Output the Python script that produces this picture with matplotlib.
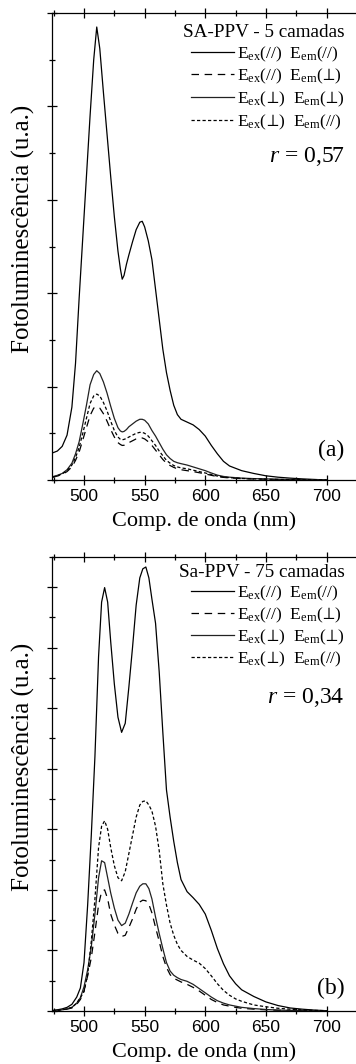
import matplotlib
matplotlib.use("Agg")
import matplotlib.pyplot as plt
from matplotlib.lines import Line2D
from matplotlib.ticker import MultipleLocator

plt.rcParams['font.family'] = ['Liberation Serif', 'DejaVu Serif']
plt.rcParams['mathtext.fontset'] = 'custom'
plt.rcParams['mathtext.rm'] = 'Liberation Serif'
plt.rcParams['mathtext.it'] = 'Liberation Serif:italic'
plt.rcParams['mathtext.bf'] = 'Liberation Serif:bold'
plt.rcParams['mathtext.fallback'] = 'stix'

# ---------------- data: panel (a) SA-PPV - 5 camadas ----------------
wl_a = [474, 478, 482, 486, 490, 493, 496, 499, 502, 505, 508, 510.5, 513, 516, 519, 522,
        525, 528, 530, 531.5, 533, 535, 537, 540, 543, 546, 548, 550, 553, 556, 559, 562, 565, 568,
        571, 574, 577, 580, 585, 590, 595, 600, 605, 610, 615, 620, 630, 640, 650, 660,
        670, 680, 690, 700]
a_par_par = [0.29, 0.31, 0.36, 0.48, 0.78, 1.25, 1.95, 2.60, 3.25, 3.90, 4.50, 4.85, 4.62, 4.15, 3.70, 3.25,
             2.82, 2.45, 2.26, 2.15, 2.19, 2.31, 2.41, 2.55, 2.68, 2.76, 2.77, 2.71, 2.56, 2.36, 2.04, 1.72, 1.40, 1.15,
             0.96, 0.80, 0.70, 0.65, 0.62, 0.59, 0.54, 0.47, 0.37, 0.28, 0.20, 0.15, 0.10, 0.07, 0.045, 0.03,
             0.02, 0.012, 0.006, 0.0]
a_par_per = [0.03, 0.042, 0.06, 0.09, 0.14, 0.21, 0.30, 0.43, 0.56, 0.69, 0.77, 0.785, 0.77, 0.71, 0.63, 0.54,
             0.46, 0.40, 0.38, 0.37, 0.372, 0.385, 0.40, 0.42, 0.44, 0.45, 0.45, 0.44, 0.41, 0.37, 0.32, 0.27, 0.22, 0.18,
             0.155, 0.135, 0.12, 0.11, 0.10, 0.09, 0.078, 0.065, 0.05, 0.037, 0.028, 0.022, 0.015, 0.01, 0.008, 0.005,
             0.004, 0.003, 0.002, 0.0]
a_per_per = [0.035, 0.05, 0.07, 0.11, 0.18, 0.28, 0.41, 0.60, 0.80, 1.02, 1.13, 1.17, 1.14, 1.05, 0.93, 0.79,
             0.66, 0.56, 0.525, 0.515, 0.52, 0.54, 0.57, 0.60, 0.63, 0.65, 0.65, 0.64, 0.60, 0.53, 0.47, 0.40, 0.33, 0.27,
             0.23, 0.20, 0.185, 0.175, 0.16, 0.14, 0.12, 0.10, 0.075, 0.052, 0.038, 0.03, 0.02, 0.015, 0.012, 0.008,
             0.006, 0.004, 0.002, 0.0]
a_per_par = [0.03, 0.045, 0.065, 0.10, 0.16, 0.24, 0.35, 0.50, 0.66, 0.82, 0.90, 0.92, 0.90, 0.83, 0.74, 0.63,
             0.53, 0.46, 0.435, 0.43, 0.435, 0.445, 0.46, 0.48, 0.50, 0.51, 0.51, 0.50, 0.47, 0.42, 0.37, 0.31, 0.26, 0.21,
             0.18, 0.155, 0.14, 0.13, 0.12, 0.105, 0.09, 0.075, 0.058, 0.042, 0.032, 0.025, 0.017, 0.012, 0.009, 0.006,
             0.004, 0.003, 0.002, 0.0]

# ---------------- data: panel (b) Sa-PPV - 75 camadas ----------------
wl_b = [474, 478, 482, 486, 490, 494, 497, 500, 503, 506, 509, 512, 514.5, 517, 519.5, 522,
        525, 528, 531, 534, 537, 540, 543, 546, 548.5, 551, 553.5, 556, 559, 562, 565, 568,
        571, 574, 577, 580, 585, 590, 595, 600, 605, 610, 615, 620, 625, 630, 640, 650,
        660, 670, 680, 690, 700]
b_par_par = [0.01, 0.02, 0.035, 0.06, 0.11, 0.23, 0.38, 0.80, 1.75, 2.90, 4.20, 5.85, 6.75, 6.99, 6.75, 6.10,
             5.40, 4.85, 4.60, 4.75, 5.35, 6.00, 6.70, 7.15, 7.30, 7.33, 7.15, 6.80, 6.40, 5.60, 4.60, 3.65,
             3.20, 2.80, 2.45, 2.17, 1.97, 1.87, 1.76, 1.60, 1.33, 1.03, 0.78, 0.58, 0.45, 0.35, 0.24, 0.15,
             0.09, 0.05, 0.03, 0.015, 0.005]
b_par_per = [0.005, 0.01, 0.018, 0.03, 0.05, 0.11, 0.19, 0.33, 0.58, 0.88, 1.30, 1.75, 1.97, 2.00, 1.85, 1.60,
             1.42, 1.28, 1.23, 1.25, 1.38, 1.52, 1.68, 1.80, 1.83, 1.82, 1.76, 1.62, 1.38, 1.15, 0.90, 0.72,
             0.60, 0.54, 0.51, 0.48, 0.44, 0.39, 0.33, 0.26, 0.19, 0.14, 0.10, 0.08, 0.06, 0.045, 0.03, 0.02,
             0.012, 0.008, 0.005, 0.003, 0.0]
b_per_per = [0.005, 0.01, 0.02, 0.035, 0.06, 0.13, 0.22, 0.40, 0.68, 1.06, 1.60, 2.20, 2.48, 2.45, 2.20, 1.95,
             1.70, 1.50, 1.41, 1.45, 1.60, 1.78, 1.95, 2.06, 2.10, 2.10, 2.02, 1.85, 1.55, 1.28, 1.03, 0.80,
             0.66, 0.59, 0.55, 0.52, 0.49, 0.44, 0.37, 0.30, 0.23, 0.17, 0.13, 0.10, 0.08, 0.06, 0.04, 0.025,
             0.015, 0.01, 0.006, 0.003, 0.0]
b_per_par = [0.005, 0.01, 0.02, 0.035, 0.06, 0.13, 0.22, 0.32, 0.60, 1.15, 1.85, 2.70, 3.05, 3.14, 3.00, 2.70,
             2.40, 2.20, 2.15, 2.30, 2.60, 2.90, 3.20, 3.40, 3.46, 3.47, 3.40, 3.30, 3.05, 2.65, 2.10, 1.75,
             1.45, 1.25, 1.10, 1.00, 0.90, 0.84, 0.79, 0.70, 0.58, 0.45, 0.34, 0.26, 0.20, 0.16, 0.10, 0.07,
             0.045, 0.03, 0.018, 0.01, 0.005]

PERP = r'$\!\bot\!$'
legend_labels = [r'E$_{\mathrm{ex}}$(//)  E$_{\mathrm{em}}$(//)',
                 r'E$_{\mathrm{ex}}$(//)  E$_{\mathrm{em}}$(' + PERP + ')',
                 r'E$_{\mathrm{ex}}$(' + PERP + r')  E$_{\mathrm{em}}$(' + PERP + ')',
                 r'E$_{\mathrm{ex}}$(' + PERP + r')  E$_{\mathrm{em}}$(//)']
titles = ['SA-PPV - 5 camadas', 'Sa-PPV - 75 camadas']
r_texts = [r'$r$ = 0,57', r'$r$ = 0,34']
panel_tags = ['(a)', '(b)']
x_ticks = [500, 550, 600, 650, 700]

styles = [dict(ls='-', color='black'),
          dict(ls=(0, (6, 4.5)), color='black'),
          dict(ls='-', color='#222222'),
          dict(ls=(0, (2.6, 1.8)), color='black')]
LW = 0.9

fig = plt.figure(figsize=(3.56, 10.64), dpi=100)
W, H = 356.0, 1064.0
ax_a = fig.add_axes([52 / W, 1 - 480 / H, 1 - 52 / W, (480 - 13) / H])
ax_b = fig.add_axes([52 / W, 1 - 1011 / H, 1 - 52 / W, (1011 - 556.7) / H])

panels = [(ax_a, wl_a, [a_par_par, a_par_per, a_per_per, a_per_par], 5.0),
          (ax_b, wl_b, [b_par_par, b_par_per, b_per_per, b_per_par], 7.5)]

# text placement (axes fractions) per panel
title_y = [0.959, 0.966]
legend_top = [0.933, 0.941]
legend_spacing = [0.2, 0.16]
r_y = [0.692, 0.689]
tag_y = [0.064, 0.05]
RX = 0.962

for i, (ax, wl, series, ytop) in enumerate(panels):
    for s, st in zip(series, styles):
        ax.plot(wl, s, lw=LW, solid_joinstyle='round', **st)
    ax.set_xlim(473.6, 724.3)
    ax.set_ylim(0, ytop)
    ax.set_xticks(x_ticks)
    ax.xaxis.set_minor_locator(MultipleLocator(25))
    ax.yaxis.set_major_locator(MultipleLocator(1))
    ax.yaxis.set_minor_locator(MultipleLocator(0.5))
    ax.set_yticklabels([])
    ax.spines['right'].set_visible(False)
    for sp in ['left', 'bottom', 'top']:
        ax.spines[sp].set_linewidth(0.9)
    ax.tick_params(axis='x', which='major', direction='inout', length=7, width=0.9,
                   top=True, labelsize=12.5, pad=3)
    ax.tick_params(axis='x', which='minor', direction='inout', length=5, width=0.9, top=True)
    ax.tick_params(axis='y', which='major', direction='inout', length=7, width=0.9, right=False)
    ax.tick_params(axis='y', which='minor', direction='inout', length=4, width=0.9, right=False)
    for lab in ax.get_xticklabels():
        lab.set_fontfamily('Liberation Sans')
    ax.set_xlabel('Comp. de onda (nm)', fontsize=16, labelpad=5)
    ax.set_ylabel('Fotoluminescência (u.a.)', fontsize=18)
    ax.yaxis.set_label_coords(-0.055, 0.537)

    handles = [Line2D([], [], lw=LW, **st) for st in styles]
    ax.legend(handles, legend_labels, loc='upper right',
              bbox_to_anchor=(RX, legend_top[i]), frameon=False,
              fontsize=12.6, handlelength=2.45, handletextpad=0.15,
              labelspacing=legend_spacing[i], borderaxespad=0.0, borderpad=0.0)
    ax.text(RX, title_y[i], titles[i], transform=ax.transAxes,
            ha='right', va='center', fontsize=13.8)
    ax.text(RX, r_y[i], r_texts[i], transform=ax.transAxes,
            ha='right', va='center', fontsize=17)
    ax.text(RX, tag_y[i], panel_tags[i], transform=ax.transAxes,
            ha='right', va='center', fontsize=17)

fig.savefig('out.png', dpi=100)
